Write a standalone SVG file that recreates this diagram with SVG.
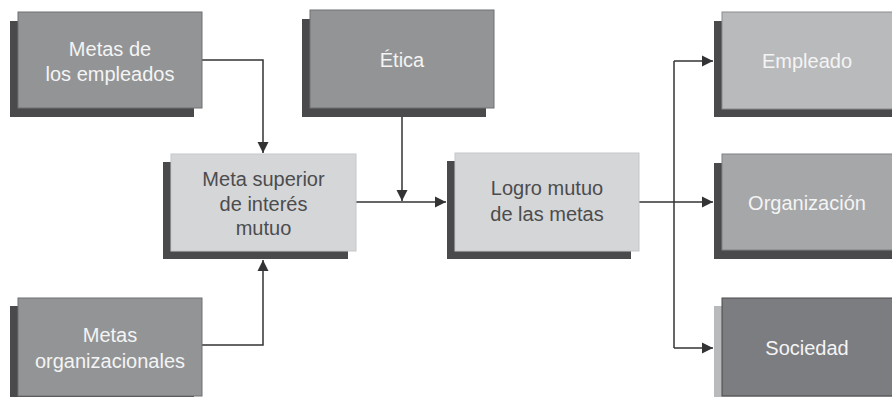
<svg xmlns="http://www.w3.org/2000/svg" width="892" height="397" viewBox="0 0 892 397">
<defs>
<style>
.sh{fill:#4a4a4c}
.shl{fill:#b9babc}
.mid{fill:#939496;stroke:#6f7072;stroke-width:1}
.lt{fill:#d5d6d8;stroke:#c6c7c9;stroke-width:1}
.emp{fill:#b9babc;stroke:#8a8b8d;stroke-width:1}
.org{fill:#a6a7a9;stroke:#808183;stroke-width:1}
.soc{fill:#7c7d80;stroke:#4a4a4c;stroke-width:1}
text{font-family:"Liberation Sans",Arial,Helvetica,sans-serif;font-size:20px;text-anchor:middle}
.w{fill:#f4f4f4}
.d{fill:#4c4c4e}
.c{fill:none;stroke:#333335;stroke-width:1.5}
</style>
<marker id="ah" viewBox="0 0 10 10" refX="10" refY="5" markerWidth="11" markerHeight="12" markerUnits="userSpaceOnUse" orient="auto">
<path d="M0,0 L10,5 L0,10z" fill="#333335"/>
</marker>
</defs>
<rect width="892" height="397" fill="#ffffff"/>

<g id="connectors">
<path class="c" d="M202,60 H263 V153" marker-end="url(#ah)"/>
<path class="c" d="M202,345 H263 V260" marker-end="url(#ah)"/>
<path class="c" d="M402,108 V201" marker-end="url(#ah)"/>
<path class="c" d="M356,202 H446" marker-end="url(#ah)"/>
<path class="c" d="M639,202 H713" marker-end="url(#ah)"/>
<path class="c" d="M674,61 V348"/>
<path class="c" d="M674,61 H713" marker-end="url(#ah)"/>
<path class="c" d="M674,348 H713" marker-end="url(#ah)"/>
</g>

<g id="metas-empleados">
<rect class="sh" x="10" y="21" width="184" height="96"/>
<rect class="mid" x="18" y="12" width="184" height="96"/>
<text class="w" x="110" y="56">Metas de</text>
<text class="w" x="110" y="81">los empleados</text>
</g>

<g id="etica">
<rect class="sh" x="302" y="19" width="184" height="98"/>
<rect class="mid" x="310" y="10" width="184" height="98"/>
<text class="w" x="402" y="67">Ética</text>
</g>

<g id="meta-superior">
<rect class="sh" x="163" y="162" width="185" height="97"/>
<rect class="lt" x="171" y="154" width="185" height="97"/>
<text class="d" x="263.5" y="186">Meta superior</text>
<text class="d" x="263.5" y="211">de interés</text>
<text class="d" x="263.5" y="235">mutuo</text>
</g>

<g id="metas-organizacionales">
<rect class="sh" x="10" y="306" width="184" height="98"/>
<rect class="mid" x="18" y="298" width="184" height="98"/>
<text class="w" x="110" y="342">Metas</text>
<text class="w" x="110" y="368">organizacionales</text>
</g>

<g id="logro">
<rect class="sh" x="447" y="161" width="184" height="98"/>
<rect class="lt" x="455" y="153" width="184" height="98"/>
<text class="d" x="547" y="195">Logro mutuo</text>
<text class="d" x="547" y="221">de las metas</text>
</g>

<g id="empleado">
<rect class="sh" x="714" y="21" width="190" height="96"/>
<rect class="emp" x="722" y="12" width="190" height="97"/>
<text class="w" x="807" y="68">Empleado</text>
</g>

<g id="organizacion">
<rect class="sh" x="714" y="163" width="190" height="96"/>
<rect class="org" x="722" y="154" width="190" height="96"/>
<text class="w" x="807" y="210">Organización</text>
</g>

<g id="sociedad">
<rect class="shl" x="714" y="306" width="190" height="98"/>
<rect class="soc" x="722" y="298" width="190" height="98"/>
<text class="w" x="807" y="355">Sociedad</text>
</g>
</svg>
